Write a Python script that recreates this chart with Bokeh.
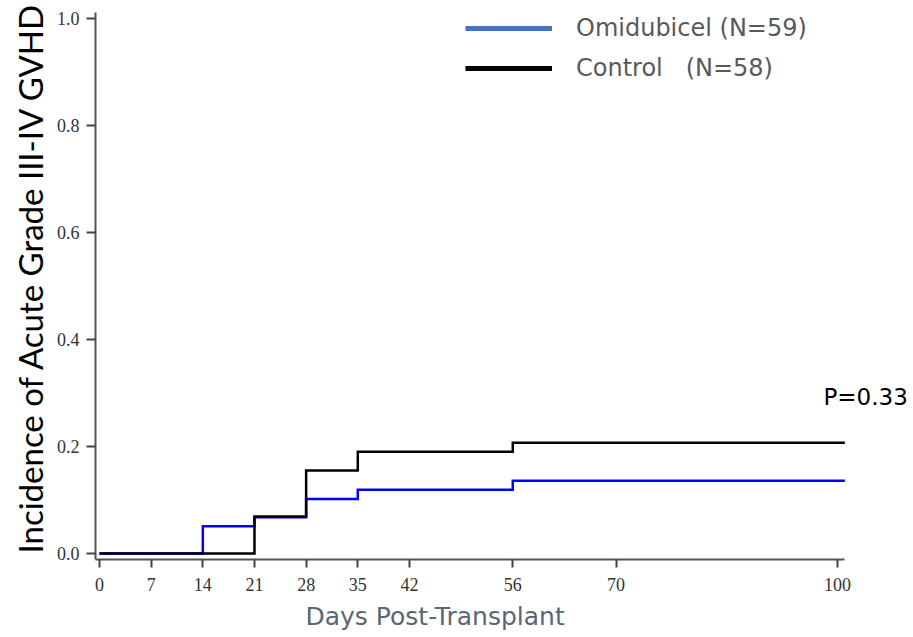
import math

from bokeh.embed import file_html
from bokeh.models import (ColumnDataSource, FixedTicker, Label, Legend,
                          LegendItem, PrintfTickFormatter, Range1d, Title)
from bokeh.plotting import figure
from bokeh.resources import INLINE

# Cumulative incidence of acute grade III-IV GVHD (step functions)
omi_days = [0, 14, 21, 28, 35, 56, 101]
omi_incidence = [0.0, 0.051, 0.068, 0.102, 0.119, 0.136, 0.136]

ctl_days = [0, 21, 28, 35, 56, 101]
ctl_incidence = [0.0, 0.069, 0.155, 0.190, 0.207, 0.207]

x_ticks = [0, 7, 14, 21, 28, 35, 42, 56, 70, 100]
y_ticks = [0.0, 0.2, 0.4, 0.6, 0.8, 1.0]

series_labels = ["Omidubicel (N=59)", "Control   (N=58)"]
p_value_text = "P=0.33"

SANS = "DejaVu Sans"
SERIF = "Liberation Serif"

p = figure(
    width=913, height=637,
    output_backend="svg", toolbar_location=None,
    x_range=Range1d(-0.542, 110.30), y_range=Range1d(-0.0112, 1.0336),
    min_border_left=95, min_border_right=0,
    min_border_top=0, min_border_bottom=78,
)
p.outline_line_color = None
p.xgrid.visible = False
p.ygrid.visible = False
p.background_fill_color = "white"
p.border_fill_color = "white"

for ax in (p.xaxis[0], p.yaxis[0]):
    ax.axis_line_color = "#555555"
    ax.axis_line_width = 2
    ax.major_tick_line_color = "#444444"
    ax.major_tick_line_width = 2
    ax.minor_tick_line_color = None
    ax.major_tick_in = 0
    ax.major_label_text_font = SERIF
    ax.major_label_text_font_size = "18px"
    ax.major_label_text_color = "#333333"

p.xaxis.ticker = FixedTicker(ticks=x_ticks)
p.xaxis.bounds = (-0.542, 101)
p.xaxis.major_tick_out = 8
p.xaxis.major_label_standoff = 10

p.yaxis.ticker = FixedTicker(ticks=y_ticks)
p.yaxis.bounds = (-0.0112, 1.011)
p.yaxis.formatter = PrintfTickFormatter(format="%.1f")
p.yaxis.major_tick_out = 9
p.yaxis.major_label_standoff = 7

# Step curves
omi_src = ColumnDataSource(dict(x=omi_days, y=omi_incidence))
ctl_src = ColumnDataSource(dict(x=ctl_days, y=ctl_incidence))
p.step("x", "y", source=omi_src, mode="after", line_color="#0000ff",
       line_width=2.5, line_join="miter")
p.step("x", "y", source=ctl_src, mode="after", line_color="#000000",
       line_width=2.5, line_join="miter")

# Legend keys (proxy renderers that hold no drawable points)
nan = float("nan")
key_omi = p.line(x=[nan], y=[nan], line_color="#4472c4", line_width=5)
key_ctl = p.line(x=[nan], y=[nan], line_color="#000000", line_width=5)
legend = Legend(
    items=[LegendItem(label=series_labels[0], renderers=[key_omi]),
           LegendItem(label=series_labels[1], renderers=[key_ctl])],
    location=(370, 477),
    glyph_width=87, glyph_height=28, label_height=28,
    label_standoff=24, spacing=12, padding=0, margin=0,
    border_line_color=None, background_fill_alpha=0,
    label_text_font=SANS, label_text_font_size="24px",
    label_text_color="#595959",
)
p.add_layout(legend)

# p-value annotation
p.add_layout(Label(
    x=98.1, y=0.2916, text=p_value_text,
    text_font=SANS, text_font_size="23px", text_color="#000000",
    text_align="left", text_baseline="middle",
))

# Axis titles
p.add_layout(Title(
    text="Days Post-Transplant", align="left", offset=210, standoff=13,
    text_font=SANS, text_font_size="25px", text_font_style="normal",
    text_color="#596773",
), "below")
p.add_layout(Title(
    text="Incidence of Acute Grade III-IV GVHD", align="left", offset=6,
    standoff=7, text_font="Lato", text_font_size="33px",
    text_font_style="normal", text_color="#000000",
), "left")

open("out.html", "w").write(file_html(p, INLINE))
